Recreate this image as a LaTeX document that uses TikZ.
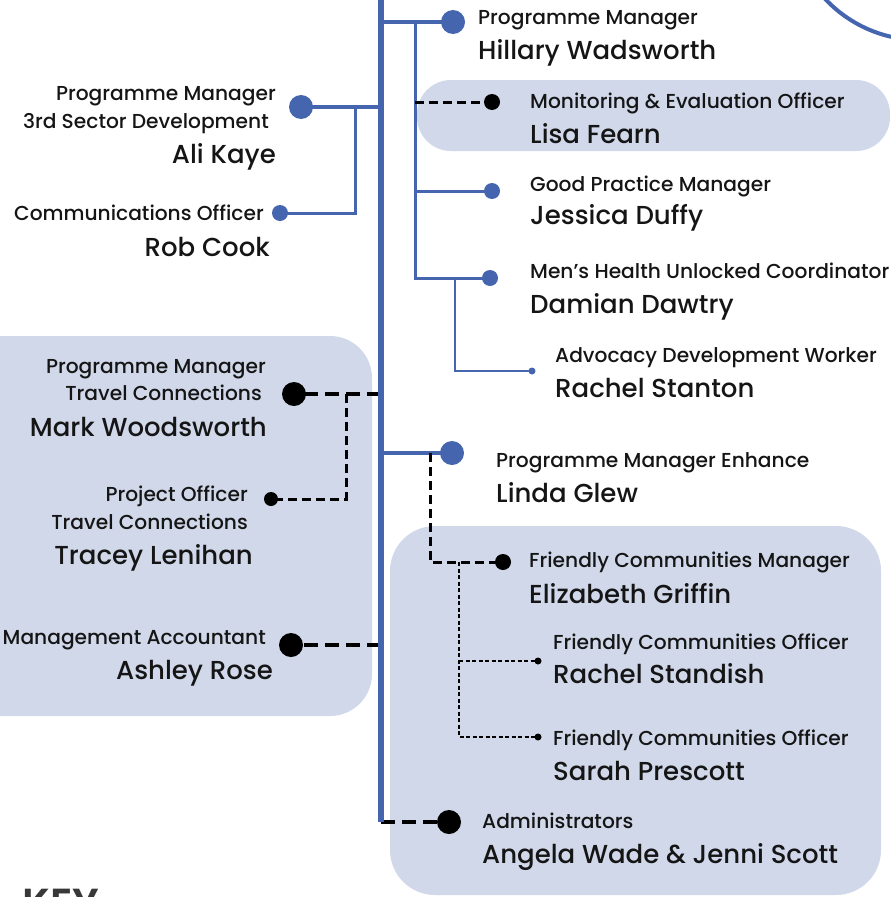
\documentclass[tikz,border=0pt]{standalone}
\usepackage{fontspec}
\setmainfont{Poppins}[UprightFont={Poppins Medium},BoldFont={Poppins SemiBold}]
\definecolor{ob}{HTML}{4565AF}
\definecolor{lb}{HTML}{D0D8EA}
\definecolor{ink}{HTML}{151515}
\begin{document}
\begin{tikzpicture}[x=1pt,y=-1pt,
  trunk/.style={draw=ob,line width=6pt},
  br/.style={draw=ob,line width=4pt},
  sec/.style={draw=ob,line width=3pt},
  thinb/.style={draw=ob,line width=1.8pt},
  dsh/.style={draw=black,line width=4pt,dash pattern=on 14pt off 7pt},
  dshs/.style={draw=black,line width=3pt,dash pattern=on 9pt off 5pt},
  dshf/.style={draw=black,line width=1.6pt,dash pattern=on 4pt off 2.5pt},
  bdot/.style={circle,fill=ob,inner sep=0pt,minimum size=#1},
  kdot/.style={circle,fill=black,inner sep=0pt,minimum size=#1},
  lbl/.style={inner sep=0pt,text=ink,font=\fontsize{20.2}{24}\selectfont},
  nm/.style={inner sep=0pt,text=ink,font=\fontsize{26}{30}\selectfont},
  box/.style={fill=lb}]
\useasboundingbox (0,0) rectangle (891,897);
% backgrounds
\fill[box,rounded corners=34pt] (417,80) rectangle (890,151);
\fill[box,rounded corners=42pt] (-60,336) rectangle (372,716);
\fill[box,rounded corners=45pt] (390,526) rectangle (881,895);
% arc top right
\draw[ob,line width=4pt] (920,-90) circle (130pt);
% dots
\node[bdot=24pt] (hwD) at (453,22) {};
\node[kdot=16pt] (lfD) at (492,102) {};
\node[bdot=16pt] (jdD) at (492,191) {};
\node[bdot=16pt] (ddD) at (490,278) {};
\node[bdot=7pt] (rsD) at (532,371) {};
\node[bdot=24pt] (akD) at (301,107) {};
\node[bdot=16pt] (rcD) at (280,213) {};
\node[kdot=24pt] (mwD) at (294,394) {};
\node[kdot=14pt] (tlD) at (271,499) {};
\node[kdot=24pt] (arD) at (291,645) {};
\node[bdot=24pt] (lgD) at (452,453) {};
\node[kdot=16pt] (egD) at (503,562) {};
\node[kdot=7pt] (rsdD) at (538,661) {};
\node[kdot=7pt] (spD) at (538,737) {};
\node[kdot=24pt] (adD) at (449,822) {};
% junction coordinates
\coordinate (ttop) at (381,-5);
\coordinate (tbot) at (381,822);
\coordinate (jHW) at (381,22);
\coordinate (jS1) at (415,22);
\coordinate (jS2) at (415,278);
\coordinate (jJD) at (415,191);
\coordinate (jLF) at (415,102);
\coordinate (jRS) at (455,278);
\coordinate (jAK) at (381,107);
\coordinate (jRC) at (355,107);
\coordinate (jMW) at (381,394);
\coordinate (jTL) at (346,394);
\coordinate (jAR) at (381,645);
\coordinate (jLG) at (381,453);
\coordinate (jEG) at (430,453);
\coordinate (jF1) at (459,562);
\coordinate (jF2) at (459,661);
% connectors
\draw[br] (jHW) -- (hwD.center);
\draw[sec] (jS1) -- (jS2) -- (ddD.center);
\draw[sec] (jJD) -- (jdD.center);
\draw[thinb] (jRS) |- (rsD.center);
\draw[dshs] (jLF) -- (lfD.center);
\draw[br] (jAK) -- (akD.center);
\draw[sec] (jRC) |- (rcD.center);
\draw[dsh] (jMW) -- (mwD.center);
\draw[dshs] (jTL) |- (tlD.center);
\draw[dsh] (jAR) -- (arD.center);
\draw[br] (jLG) -- (lgD.center);
\draw[dshs] (jEG) |- (egD.center);
\draw[dshf] (jF1) |- (spD.center);
\draw[dshf] (jF2) -- (rsdD.center);
\draw[dsh] (tbot) -- (adD.center);
\draw[trunk] (ttop) -- (tbot);
% right side texts
\node[lbl,anchor=base west] (t1) at (478,24) {Programme Manager};
\node[nm,anchor=base west] (t2) at (478,59) {Hillary Wadsworth};
\node[lbl,anchor=base west] (t3) at (530,108) {Monitoring \& Evaluation Officer};
\node[nm,anchor=base west] (t4) at (530,143) {Lisa Fearn};
\node[lbl,anchor=base west] (t5) at (530,191) {Good Practice Manager};
\node[nm,anchor=base west] (t6) at (530,224) {Jessica Duffy};
\node[lbl,anchor=base west] (t7) at (530,278) {Men’s Health Unlocked Coordinator};
\node[nm,anchor=base west] (t8) at (530,313) {Damian Dawtry};
\node[lbl,anchor=base west] (t9) at (555,362) {Advocacy Development Worker};
\node[nm,anchor=base west] (t10) at (555,397) {Rachel Stanton};
\node[lbl,anchor=base west] (t11) at (496,467) {Programme Manager Enhance};
\node[nm,anchor=base west] (t12) at (496,502) {Linda Glew};
\node[lbl,anchor=base west] (t13) at (529,567) {Friendly Communities Manager};
\node[nm,anchor=base west] (t14) at (529,603) {Elizabeth Griffin};
\node[lbl,anchor=base west] (t15) at (553,649) {Friendly Communities Officer};
\node[nm,anchor=base west] (t16) at (553,683) {Rachel Standish};
\node[lbl,anchor=base west] (t17) at (553,745) {Friendly Communities Officer};
\node[nm,anchor=base west] (t18) at (553,780) {Sarah Prescott};
\node[lbl,anchor=base west] (t19) at (482,828) {Administrators};
\node[nm,anchor=base west] (t20) at (482,863) {Angela Wade \& Jenni Scott};
% left side texts
\node[lbl,anchor=base east] (u1) at (276,100) {Programme Manager};
\node[lbl,anchor=base east] (u2) at (269,128) {3rd Sector Development};
\node[nm,anchor=base east] (u3) at (276,163) {Ali Kaye};
\node[lbl,anchor=base east] (u4) at (264,220) {Communications Officer};
\node[nm,anchor=base east] (u5) at (270,256) {Rob Cook};
\node[lbl,anchor=base east] (u6) at (266,373) {Programme Manager};
\node[lbl,anchor=base east] (u7) at (262,400) {Travel Connections};
\node[nm,anchor=base east] (u8) at (267,436) {Mark Woodsworth};
\node[lbl,anchor=base east] (u9) at (248,501) {Project Officer};
\node[lbl,anchor=base east] (u10) at (248,529) {Travel Connections};
\node[nm,anchor=base east] (u11) at (253,564) {Tracey Lenihan};
\node[lbl,anchor=base east] (u12) at (266,644) {Management Accountant};
\node[nm,anchor=base east] (u13) at (273,679) {Ashley Rose};
% key
\node[inner sep=0pt,anchor=north west,text=ink!85,font=\bfseries\fontsize{42}{46}\selectfont] (key) at (22,889) {KEY};
\end{tikzpicture}
\end{document}
